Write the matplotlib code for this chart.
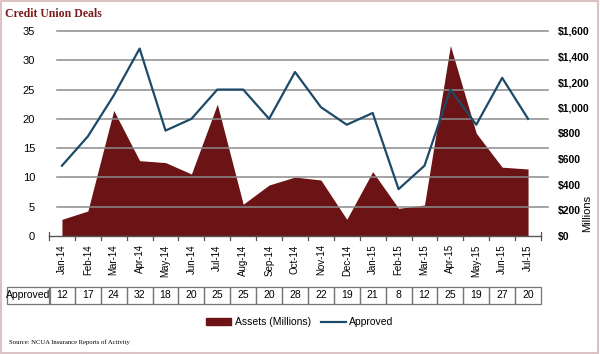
import matplotlib
matplotlib.use('Agg')
import matplotlib.pyplot as plt
import matplotlib.transforms as mtransforms
from matplotlib.patches import Rectangle
from matplotlib.lines import Line2D
import numpy as np

# Данные
months = ['Jan-14', 'Feb-14', 'Mar-14', 'Apr-14', 'May-14', 'Jun-14', 'Jul-14',
          'Aug-14', 'Sep-14', 'Oct-14', 'Nov-14', 'Dec-14', 'Jan-15', 'Feb-15',
          'Mar-15', 'Apr-15', 'May-15', 'Jun-15', 'Jul-15']
approved = [12, 17, 24, 32, 18, 20, 25, 25, 20, 28, 22, 19, 21, 8, 12, 25, 19, 27, 20]
assets = [130, 195, 980, 588, 573, 484, 1029, 248, 398, 460, 437, 130, 502, 216,
          242, 1487, 802, 537, 523]
left_ticks = [0, 5, 10, 15, 20, 25, 30, 35]
right_ticks = [0, 200, 400, 600, 800, 1000, 1200, 1400, 1600]

AREA_COLOR = '#6b1315'
LINE_COLOR = '#1c4a68'
GRID_COLOR = '#8c8c8c'

plt.rcParams['font.family'] = ['Liberation Sans', 'DejaVu Sans']

fig = plt.figure(figsize=(6.0, 3.54), dpi=100)
W, H = 600, 354


def fx(px):
    return px / W


def fy(py):
    return 1 - py / H


x = np.arange(len(months))

# Основная ось: активы (правая шкала)
ax = fig.add_axes([fx(49), fy(236), fx(541) - fx(49), fy(31) - fy(236)])
ax.fill_between(x, assets, 0, color=AREA_COLOR, linewidth=0, zorder=2)
ax.set_xlim(-0.5, len(months) - 0.5)
ax.set_ylim(0, 1600)
for s in ax.spines.values():
    s.set_visible(False)
ax.set_xticks(x)
ax.set_xticklabels(months, rotation=90, fontsize=7)
ax.tick_params(axis='x', length=0, pad=6)

# Вторая ось: количество одобренных (левая шкала)
ax2 = ax.twinx()
ax2.plot(x, approved, color=LINE_COLOR, linewidth=1.6, zorder=3)
ax2.set_ylim(0, 35)
for s in ax2.spines.values():
    s.set_visible(False)

ax.yaxis.tick_right()
ax.set_yticks(right_ticks)
ax.set_yticklabels([f'${v:,}' for v in right_ticks], fontsize=7.5, fontweight='bold')
ax.tick_params(axis='y', length=0, pad=12)

ax2.yaxis.tick_left()
ax2.set_yticks(left_ticks)
ax2.set_yticklabels([str(v) for v in left_ticks], fontsize=8)
ax2.tick_params(axis='y', length=0, pad=10)

# Сетка по левой шкале, немного смещена вправо
for v in left_ticks[1:]:
    ax2.plot([-0.19, 18.77], [v, v], color=GRID_COLOR, linewidth=1.1,
             clip_on=False, zorder=1)
ax.set_zorder(1)
ax2.set_zorder(2)
ax.patch.set_visible(False)
ax2.patch.set_visible(False)

# Нижняя ось с засечками между категориями
ax2.plot([-0.5, 18.5], [0, 0], color='#555555', linewidth=1.0, clip_on=False, zorder=4)
tick_len = 4 / 205 * 35
for b in np.arange(-0.5, len(months), 1.0):
    ax2.plot([b, b], [0, -tick_len], color='#555555', linewidth=0.9, clip_on=False)
for b in (-0.5, 18.5):
    ax2.plot([b, b], [0, tick_len], color='#555555', linewidth=0.9, clip_on=False)

# Таблица "Approved"
trans = mtransforms.blended_transform_factory(ax.transData, fig.transFigure)
row_top, row_bot = fy(287), fy(304)
fig.patches.append(Rectangle((fx(7), row_bot), fx(50) - fx(7), row_top - row_bot,
                             transform=fig.transFigure, fill=False,
                             edgecolor='#777777', linewidth=0.9))
fig.text(fx(28.5), (row_top + row_bot) / 2, 'Approved', ha='center', va='center',
         fontsize=7.5)
for i, v in enumerate(approved):
    r = Rectangle((i - 0.5, row_bot), 1, row_top - row_bot, transform=trans,
                  fill=False, edgecolor='#777777', linewidth=0.9, clip_on=False)
    ax.add_artist(r)
    ax.text(i, (row_top + row_bot) / 2, str(v), transform=trans, ha='center',
            va='center', fontsize=7.5, clip_on=False)

# Легенда
handles = [Rectangle((0, 0), 1, 1, color=AREA_COLOR),
           Line2D([0], [0], color=LINE_COLOR, linewidth=1.6)]
fig.legend(handles, ['Assets (Millions)', 'Approved'], loc='center',
           bbox_to_anchor=(fx(300), fy(322)), ncol=2, frameon=False, fontsize=7.5,
           handlelength=2.4, handleheight=0.6, columnspacing=1.0, handletextpad=0.3)

# Подписи
fig.text(fx(5), fy(14), 'Credit Union Deals', fontsize=8.5, fontweight='bold',
         family='Liberation Serif', color='#7a1a1a', va='center', ha='left')
fig.text(fx(9), fy(342), 'Source: NCUA Insurance Reports of Activity', fontsize=4.8,
         family='Liberation Serif', va='center', ha='left')
fig.text(fx(587), fy(213), 'Millions', rotation=90, fontsize=8, va='center',
         ha='center')

# Рамка
fig.patches.append(Rectangle((0.002, 0.004), 0.994, 0.992, transform=fig.transFigure,
                             fill=False, edgecolor='#dcc2c2', linewidth=1.5))

fig.savefig('out.png', dpi=100)
